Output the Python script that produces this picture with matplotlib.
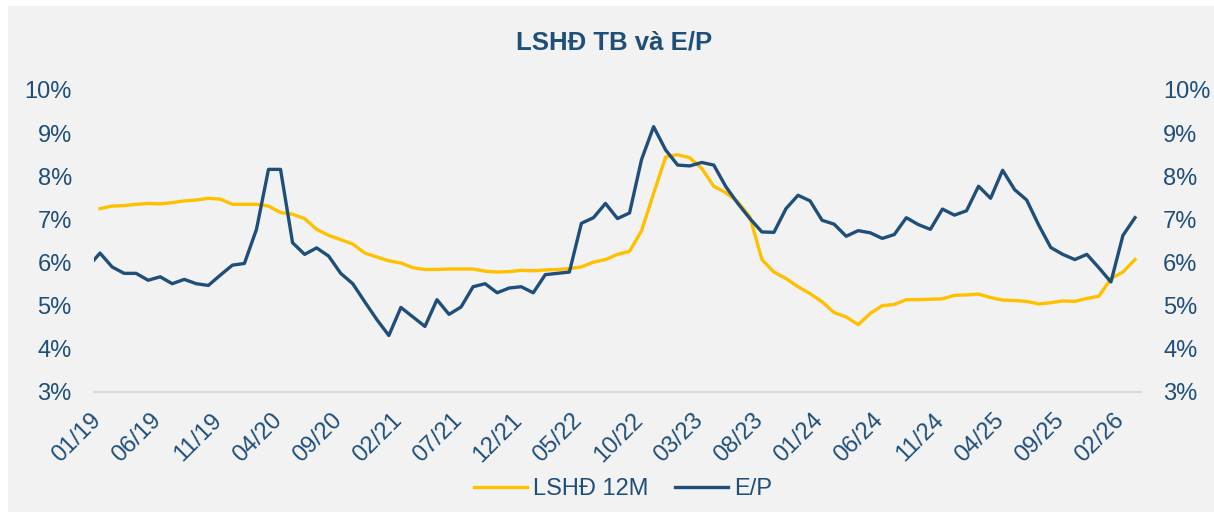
import matplotlib
matplotlib.use("Agg")
import matplotlib.pyplot as plt
import matplotlib.transforms as mtransforms
import numpy as np
from matplotlib.patches import Rectangle

# Months from 12/18 to 03/26
months = []
for y in range(18, 27):
    for m in range(1, 13):
        if (y == 18 and m < 12) or (y == 26 and m > 3):
            continue
        months.append(f"{m:02d}/{y:02d}")

lshd = [np.nan,
        7.25, 7.31, 7.32, 7.35, 7.37, 7.36, 7.39, 7.43, 7.45, 7.49, 7.47, 7.35,
        7.35, 7.35, 7.31, 7.16, 7.12, 7.02, 6.77, 6.63, 6.53, 6.43, 6.22, 6.13,
        6.04, 5.99, 5.88, 5.84, 5.84, 5.85, 5.85, 5.85, 5.80, 5.78, 5.79, 5.82,
        5.81, 5.83, 5.84, 5.86, 5.90, 6.01, 6.07, 6.19, 6.26, 6.74, 7.60, 8.45,
        8.50, 8.43, 8.18, 7.77, 7.62, 7.41, 7.06, 6.07, 5.78, 5.63, 5.44, 5.28,
        5.09, 4.84, 4.74, 4.56, 4.82, 5.00, 5.03, 5.14, 5.14, 5.15, 5.16, 5.24,
        5.25, 5.27, 5.19, 5.13, 5.12, 5.10, 5.04, 5.07, 5.11, 5.10, 5.17, 5.22,
        5.63, 5.78, 6.07]

ep = [5.90,
      6.22, 5.90, 5.75, 5.75, 5.59, 5.67, 5.51, 5.61, 5.51, 5.47, 5.71, 5.94,
      5.98, 6.77, 8.16, 8.16, 6.46, 6.19, 6.34, 6.15, 5.75, 5.51, 5.09, 4.68,
      4.31, 4.96, 4.74, 4.52, 5.14, 4.80, 4.97, 5.44, 5.51, 5.30, 5.41, 5.44,
      5.30, 5.72, 5.75, 5.78, 6.91, 7.04, 7.37, 7.02, 7.15, 8.39, 9.15, 8.61,
      8.26, 8.24, 8.32, 8.26, 7.76, 7.37, 7.02, 6.71, 6.70, 7.25, 7.56, 7.43,
      6.98, 6.89, 6.61, 6.74, 6.69, 6.56, 6.65, 7.04, 6.88, 6.77, 7.24, 7.10,
      7.20, 7.77, 7.49, 8.14, 7.69, 7.45, 6.87, 6.35, 6.19, 6.07, 6.19, 5.88,
      5.55, 6.63, 7.04]

yticks = [3, 4, 5, 6, 7, 8, 9, 10]

navy = "#1F4E79"
gold = "#FFC000"
plt.rcParams['font.family'] = ['Liberation Sans', 'DejaVu Sans']

fig = plt.figure(figsize=(12.14, 5.12), dpi=100, facecolor="white")
fig.patches.append(Rectangle((8 / 1214, 0), 1 - 8 / 1214, 1 - 6 / 512,
                             transform=fig.transFigure, facecolor="#F2F2F2",
                             edgecolor="none", zorder=-10))

ax = fig.add_axes([94 / 1214, 1 - 392 / 512, (1141 - 94) / 1214, (392 - 90) / 512])
ax.set_facecolor("none")
x = np.arange(len(months)) - 1  # 0 = 01/19

ax.plot(x, lshd, color=gold, lw=2.4, label="LSHĐ 12M", solid_joinstyle="round")
ax.plot(x, ep, color=navy, lw=2.4, label="E/P", solid_joinstyle="round")

ax.set_xlim(-0.5, 86.5)
ax.set_ylim(3, 10)
ax.set_yticks(yticks)
ax.set_yticklabels([f"{v}%" for v in yticks])
tick_idx = list(range(0, 87, 5))
ax.set_xticks(tick_idx)
ax.set_xticklabels([months[i + 1] for i in tick_idx], rotation=45, ha="right",
                   va="baseline", rotation_mode="anchor")

for s in ["top", "left", "right"]:
    ax.spines[s].set_visible(False)
ax.spines["bottom"].set_color("#D9D9D9")
ax.spines["bottom"].set_linewidth(1.5)
ax.tick_params(axis="y", length=0, labelsize=17, labelcolor=navy, pad=16)
ax.tick_params(axis="x", length=0, labelsize=17, labelcolor=navy, pad=21)
offset = mtransforms.ScaledTranslation(2 / 100, 0, fig.dpi_scale_trans)
for lab in ax.get_xticklabels():
    lab.set_transform(lab.get_transform() + offset)

ax2 = ax.twinx()
ax2.set_ylim(3, 10)
ax2.set_yticks(yticks)
ax2.set_yticklabels([f"{v}%" for v in yticks])
for s in ["top", "left", "right", "bottom"]:
    ax2.spines[s].set_visible(False)
ax2.tick_params(axis="y", length=0, labelsize=17, labelcolor=navy, pad=16)

fig.text(0.506, 1 - 42 / 512, "LSHĐ TB và E/P", ha="center", va="center",
         fontsize=18.5, fontweight="bold", color=navy)

leg = fig.legend(loc="center", bbox_to_anchor=(623 / 1214, 1 - 489 / 512), ncol=2,
                 frameon=False, fontsize=17, handlelength=2.25, handletextpad=0.25,
                 columnspacing=1.1)
for t in leg.get_texts():
    t.set_color(navy)

fig.savefig("out.png", dpi=100, facecolor=fig.get_facecolor())
